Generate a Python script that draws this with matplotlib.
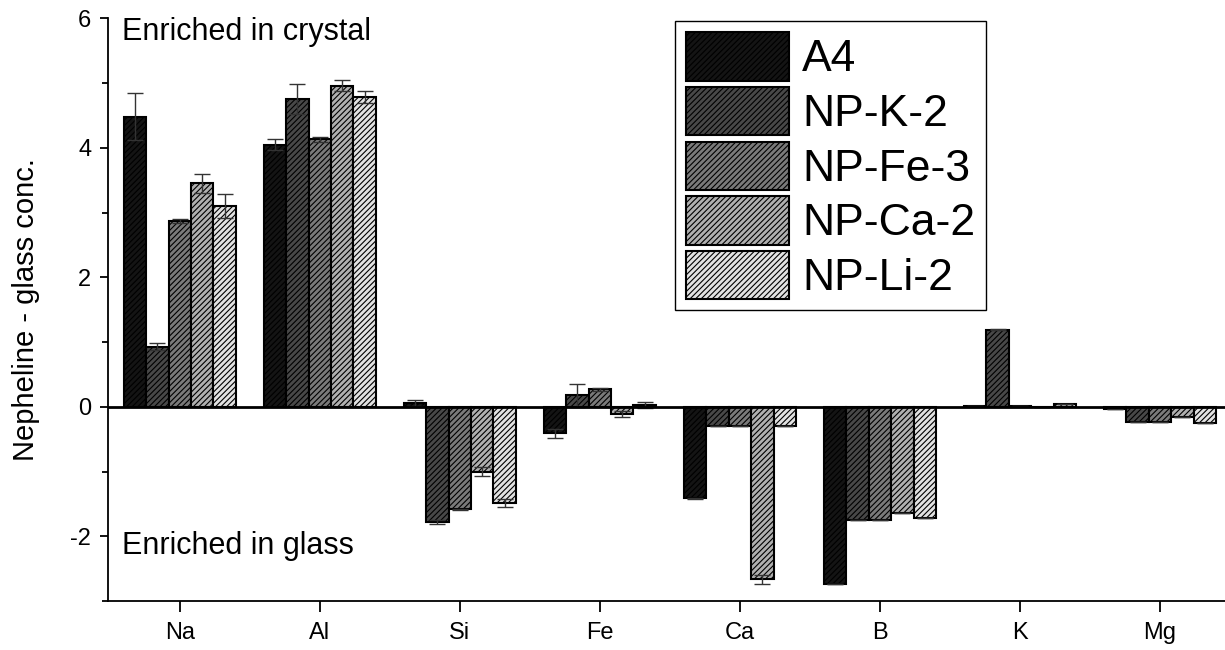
"""Разность концентраций нефелин - стекло по элементам для пяти составов."""

import matplotlib.pyplot as plt
import numpy as np

plt.rcParams["font.family"] = ["Liberation Sans", "DejaVu Sans"]
plt.rcParams["hatch.color"] = "black"
plt.rcParams["hatch.linewidth"] = 0.8
plt.rcParams["axes.unicode_minus"] = False

elements = ["Na", "Al", "Si", "Fe", "Ca", "B", "K", "Mg"]
samples = ["A4", "NP-K-2", "NP-Fe-3", "NP-Ca-2", "NP-Li-2"]

a4 = [4.48, 4.05, 0.06, -0.41, -1.41, -2.73, 0.02, -0.04]
np_k2 = [0.93, 4.75, -1.78, 0.18, -0.30, -1.75, 1.19, -0.23]
np_fe3 = [2.87, 4.13, -1.58, 0.27, -0.29, -1.75, 0.02, -0.23]
np_ca2 = [3.45, 4.96, -1.00, -0.11, -2.66, -1.64, 0.00, -0.16]
np_li2 = [3.10, 4.78, -1.48, 0.03, -0.29, -1.72, 0.04, -0.25]

a4_err = [0.36, 0.08, 0.05, 0.07, 0.01, 0.0, 0.0, 0.0]
np_k2_err = [0.05, 0.23, 0.03, 0.18, 0.0, 0.0, 0.01, 0.0]
np_fe3_err = [0.03, 0.04, 0.01, 0.02, 0.0, 0.0, 0.0, 0.0]
np_ca2_err = [0.15, 0.09, 0.07, 0.04, 0.07, 0.0, 0.0, 0.0]
np_li2_err = [0.19, 0.09, 0.06, 0.04, 0.0, 0.0, 0.0, 0.0]

values = [a4, np_k2, np_fe3, np_ca2, np_li2]
errors = [a4_err, np_k2_err, np_fe3_err, np_ca2_err, np_li2_err]
colors = ["#141414", "#484848", "#7a7a7a", "#b0b0b0", "#e2e2e2"]

fig = plt.figure(figsize=(12.25, 6.5), dpi=100)
ax = fig.add_axes([0.088, 0.075, 0.912, 0.897])

x = np.arange(1, len(elements) + 1)
width = 0.16

for i, (name, vals, errs, color) in enumerate(zip(samples, values, errors, colors)):
    pos = x + (i - 2) * width
    ax.bar(
        pos, vals, width,
        color=color, edgecolor="black", linewidth=1.5,
        hatch="//////", label=name, zorder=2,
    )
    ax.errorbar(
        pos, vals, yerr=errs, fmt="none",
        ecolor="#333333", elinewidth=1.0, capsize=6, capthick=1.0, zorder=3,
    )

# Нулевая линия
ax.axhline(0, color="black", linewidth=2, zorder=4)

ax.set_xlim(0.486, 8.464)
ax.set_ylim(-3, 6)
ax.set_xticks(x)
ax.set_xticklabels(elements)
ax.set_yticks([-2, 0, 2, 4, 6])
ax.set_yticks([-3, -1, 1, 3, 5], minor=True)

for side in ("top", "right"):
    ax.spines[side].set_visible(False)
ax.spines["left"].set_linewidth(1.3)
ax.spines["bottom"].set_linewidth(1.3)

ax.tick_params(axis="y", which="major", direction="out", length=6,
               width=1.3, labelsize=17, pad=6)
ax.tick_params(axis="x", which="major", direction="out", length=8,
               width=1.3, labelsize=17, pad=7)
ax.tick_params(axis="y", which="minor", direction="out", length=4, width=1.3)
ax.tick_params(axis="x", which="minor", length=0)

ax.set_ylabel("Nepheline - glass conc.", fontsize=21, labelpad=22)

ax.text(0.013, 5.78, "Enriched in crystal", fontsize=22,
        transform=ax.get_yaxis_transform(), va="center", ha="left")
ax.text(0.013, -2.15, "Enriched in glass", fontsize=22,
        transform=ax.get_yaxis_transform(), va="center", ha="left")

leg = ax.legend(
    loc="upper left", bbox_to_anchor=(0.508, 0.995),
    fontsize=32, frameon=True, fancybox=False, framealpha=1,
    handlelength=2.3, handleheight=1.3, labelspacing=0.14,
    borderpad=0.25, handletextpad=0.3, borderaxespad=0,
)
leg.get_frame().set_edgecolor("black")
leg.get_frame().set_linewidth(1.0)

fig.savefig("out.png", dpi=100)
